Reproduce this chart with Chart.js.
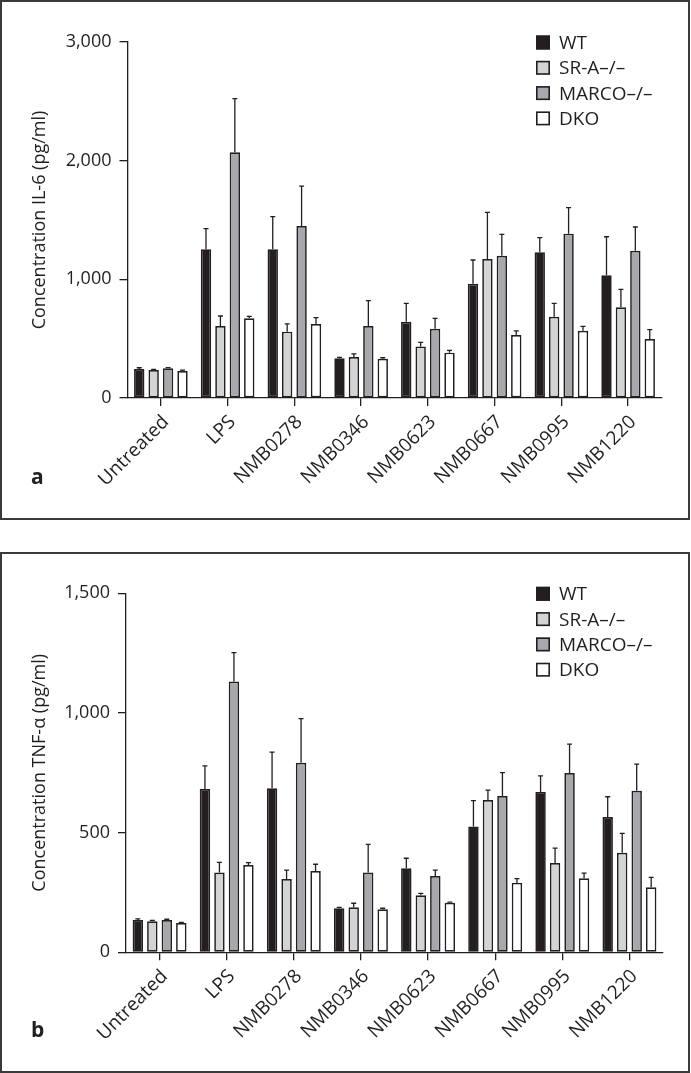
<!DOCTYPE html>
<html>
<head>
<meta charset="utf-8">
<script src="https://cdn.jsdelivr.net/npm/chart.js@4.4.1/dist/chart.umd.min.js"></script>
<style>
  body { margin: 0; background: #fff; }
  .panel { position: absolute; left: 0; width: 691px; }
  .panel canvas { position: absolute; left: 0; top: 0; }
  .frame { position: absolute; left: 0; top: 0; width: 686px; border: 2px solid #3a3a3a; pointer-events: none; }
</style>
</head>
<body>
<div class="panel" style="top:0;height:520px">
  <canvas id="il6Chart" width="691" height="520"></canvas>
  <div class="frame" style="height:516px"></div>
</div>
<div class="panel" style="top:552px;height:521px">
  <canvas id="tnfChart" width="691" height="521"></canvas>
  <div class="frame" style="height:517px"></div>
</div>

<script>
// Treatments on the x axis
const treatments = ['Untreated', 'LPS', 'NMB0278', 'NMB0346', 'NMB0623', 'NMB0667', 'NMB0995', 'NMB1220'];

// Mouse strains (series)
const strains = ['WT', 'SR-A\u2013/\u2013', 'MARCO\u2013/\u2013', 'DKO'];
const strainColors = ['#231f20', '#d3d4d5', '#a6a8ab', '#ffffff'];

// IL-6 means (pg/ml)
const il6Wt = [245, 1253, 1253, 334, 643, 963, 1228, 1034];
const il6SrA = [236, 607, 559, 345, 435, 1171, 685, 764];
const il6Marco = [250, 2070, 1449, 607, 584, 1199, 1385, 1241];
const il6Dko = [227, 671, 624, 331, 382, 531, 567, 497];

// IL-6 error bars (upper only)
const il6WtErr = [10, 174, 275, 8, 155, 200, 123, 325];
const il6SrAErr = [6, 84, 65, 26, 34, 394, 113, 152];
const il6MarcoErr = [6, 452, 337, 213, 87, 180, 219, 200];
const il6DkoErr = [8, 17, 53, 8, 20, 34, 37, 79];

// TNF-alpha means (pg/ml)
const tnfWt = [135, 682, 685, 184, 351, 526, 670, 565];
const tnfSrA = [130, 333, 306, 188, 238, 636, 373, 416];
const tnfMarco = [135, 1131, 792, 333, 319, 653, 749, 675];
const tnfDko = [122, 365, 340, 180, 207, 290, 309, 272];

// TNF-alpha error bars
const tnfWtErr = [5, 97, 151, 4, 42, 108, 67, 85];
const tnfSrAErr = [3, 43, 37, 17, 8, 42, 62, 81];
const tnfMarcoErr = [3, 121, 184, 118, 24, 98, 121, 111];
const tnfDkoErr = [3, 10, 28, 4, 3, 18, 22, 41];

// y axis ticks
const il6Ticks = [0, 1000, 2000, 3000];
const tnfTicks = [0, 500, 1000, 1500];

const ink = '#231f20';
const fontFamily = '"Open Sans", "Noto Sans", sans-serif';

// Draw upper error bars on top of each bar
const errorBarPlugin = {
    id: 'errorBars',
    afterDatasetsDraw(chart, args, opts) {
        const ctx = chart.ctx;
        const yScale = chart.scales.y;
        ctx.save();
        ctx.strokeStyle = opts.color;
        ctx.lineWidth = opts.width;
        chart.data.datasets.forEach((ds, di) => {
            const meta = chart.getDatasetMeta(di);
            meta.data.forEach((bar, i) => {
                const top = yScale.getPixelForValue(ds.data[i] + ds.errors[i]);
                ctx.beginPath();
                ctx.moveTo(bar.x, bar.y);
                ctx.lineTo(bar.x, top);
                ctx.moveTo(bar.x - opts.cap, top);
                ctx.lineTo(bar.x + opts.cap, top);
                ctx.stroke();
            });
        });
        ctx.restore();
    }
};

// Square legend in the top right corner, plus the panel letter
const boxLegendPlugin = {
    id: 'boxLegend',
    afterDraw(chart, args, opts) {
        const ctx = chart.ctx;
        ctx.save();
        ctx.font = opts.size + 'px ' + fontFamily;
        ctx.textBaseline = 'middle';
        chart.data.datasets.forEach((ds, i) => {
            const y = opts.y + i * opts.rowGap;
            ctx.fillStyle = ds.backgroundColor;
            ctx.fillRect(opts.x, y - 7, 14, 14);
            ctx.strokeStyle = ink;
            ctx.lineWidth = 1.6;
            ctx.strokeRect(opts.x + 0.8, y - 6.2, 12.4, 12.4);
            ctx.fillStyle = ink;
            ctx.fillText(ds.label, opts.x + 23, y + 1);
        });
        ctx.font = 'bold 21px ' + fontFamily;
        ctx.textBaseline = 'alphabetic';
        ctx.fillText(opts.letter, 31, opts.letterY);
        ctx.restore();
    }
};

function makeChart(canvasId, series, errors, ticks, title, frame) {
    const datasets = series.map((values, i) => ({
        label: strains[i],
        data: values,
        errors: errors[i],
        backgroundColor: strainColors[i],
        borderColor: ink,
        borderWidth: 1.7,
        borderSkipped: false,
        categoryPercentage: 0.864,
        barPercentage: 0.72
    }));

    return new Chart(document.getElementById(canvasId).getContext('2d'), {
        type: 'bar',
        data: { labels: treatments, datasets: datasets },
        plugins: [errorBarPlugin, boxLegendPlugin],
        options: {
            responsive: false,
            animation: false,
            layout: { padding: { top: frame.top, right: 691 - frame.right, bottom: 0, left: 0 } },
            plugins: {
                legend: { display: false },
                tooltip: { enabled: false },
                errorBars: { color: ink, width: 1.3, cap: 2.5 },
                boxLegend: { x: 536, y: frame.top + 0.5, rowGap: 25.3, size: 19, letter: frame.letter, letterY: frame.letterY }
            },
            scales: {
                x: {
                    offset: true,
                    grid: { offset: false, drawOnChartArea: false, tickLength: 8, color: ink, lineWidth: 1.3 },
                    border: { color: ink, width: 1.3 },
                    ticks: { autoSkip: false, maxRotation: 45, minRotation: 45, padding: 5, labelOffset: 5, color: ink, font: { family: fontFamily, size: 19 } },
                    afterFit: (s) => { s.height = frame.height - frame.bottom; }
                },
                y: {
                    min: ticks[0],
                    max: ticks[ticks.length - 1],
                    afterBuildTicks: (s) => { s.ticks = ticks.map(v => ({ value: v })); },
                    grid: { drawOnChartArea: false, tickLength: 8, color: ink, lineWidth: 1.3 },
                    border: { color: ink, width: 1.3 },
                    ticks: { padding: 8, color: ink, font: { family: fontFamily, size: 18 }, callback: (v) => v.toLocaleString('en-US') },
                    title: { display: true, text: title, color: ink, padding: { top: 29, bottom: 0 }, font: { family: fontFamily, size: 18 } },
                    afterFit: (s) => { s.width = frame.left; }
                }
            }
        }
    });
}

makeChart('il6Chart',
    [il6Wt, il6SrA, il6Marco, il6Dko],
    [il6WtErr, il6SrAErr, il6MarcoErr, il6DkoErr],
    il6Ticks, 'Concentration IL-6 (pg/ml)',
    { left: 127.5, right: 661.5, top: 42, bottom: 398, height: 520, letter: 'a', letterY: 484 });

makeChart('tnfChart',
    [tnfWt, tnfSrA, tnfMarco, tnfDko],
    [tnfWtErr, tnfSrAErr, tnfMarcoErr, tnfDkoErr],
    tnfTicks, 'Concentration TNF-\u03b1 (pg/ml)',
    { left: 126, right: 663, top: 41.3, bottom: 400.3, height: 521, letter: 'b', letterY: 485 });
</script>
</body>
</html>
